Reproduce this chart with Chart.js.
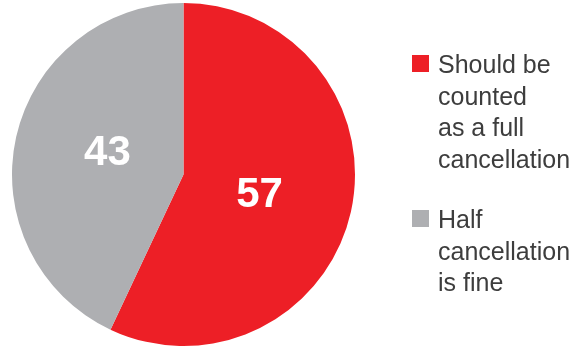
<!DOCTYPE html>
<html>
<head>
<meta charset="utf-8">
<script src="https://cdn.jsdelivr.net/npm/chart.js@4"></script>
<style>
  html, body { margin: 0; padding: 0; background: #fff; }
  #wrap { position: relative; width: 582px; height: 347px; }
  #legend { position: absolute; left: 0; top: 0; font-family: "Liberation Sans", Arial, sans-serif; font-size: 25px; line-height: 31.5px; color: #3d3d3d; }
  .item { position: absolute; left: 412px; white-space: nowrap; }
  .box { position: absolute; left: 0; width: 17px; height: 17px; }
  .txt { position: absolute; left: 26px; top: 0; }
</style>
</head>
<body>
<div id="wrap">
  <canvas id="pie" width="582" height="347"></canvas>
  <div id="legend"></div>
</div>
<script>
var labels = [['Should be', 'counted', 'as a full', 'cancellation'], ['Half', 'cancellation', 'is fine']];
var values = [57, 43];
var colors = ['#ed1f26', '#aeafb2'];

// white numbers inside the slices
var sliceLabels = {
  id: 'sliceLabels',
  afterDatasetsDraw: function (chart) {
    var ctx = chart.ctx;
    var meta = chart.getDatasetMeta(0);
    ctx.save();
    ctx.fillStyle = '#fff';
    ctx.font = 'bold 42px "Liberation Sans", Arial, sans-serif';
    ctx.textAlign = 'center';
    ctx.textBaseline = 'middle';
    meta.data.forEach(function (arc, i) {
      var p = arc.getProps(['x', 'y', 'startAngle', 'endAngle', 'outerRadius']);
      var mid = (p.startAngle + p.endAngle) / 2 + 0.05;
      var r = p.outerRadius * 0.46;
      ctx.fillText(String(values[i]), p.x + Math.cos(mid) * r, p.y + Math.sin(mid) * r);
    });
    ctx.restore();
  }
};

var ctx = document.getElementById('pie').getContext('2d');
var myChart = new Chart(ctx, {
  type: 'pie',
  data: {
    labels: labels,
    datasets: [{
      data: values,
      backgroundColor: colors,
      borderWidth: 0,
    }],
  },
  options: {
    responsive: false,
    animation: false,
    layout: {
      padding: { left: 12, right: 227, top: 3, bottom: 1 },
    },
    plugins: {
      legend: { display: false },
      tooltip: { enabled: false },
    },
  },
  plugins: [sliceLabels],
});

// legend at the right, built from the same arrays
var legend = document.getElementById('legend');
var tops = [49, 204];
labels.forEach(function (lines, i) {
  var item = document.createElement('div');
  item.className = 'item';
  item.style.top = tops[i] + 'px';
  var box = document.createElement('div');
  box.className = 'box';
  box.style.background = colors[i];
  box.style.top = '6px';
  var txt = document.createElement('div');
  txt.className = 'txt';
  txt.innerHTML = lines.join('<br>');
  item.appendChild(box);
  item.appendChild(txt);
  legend.appendChild(item);
});
</script>
</body>
</html>
